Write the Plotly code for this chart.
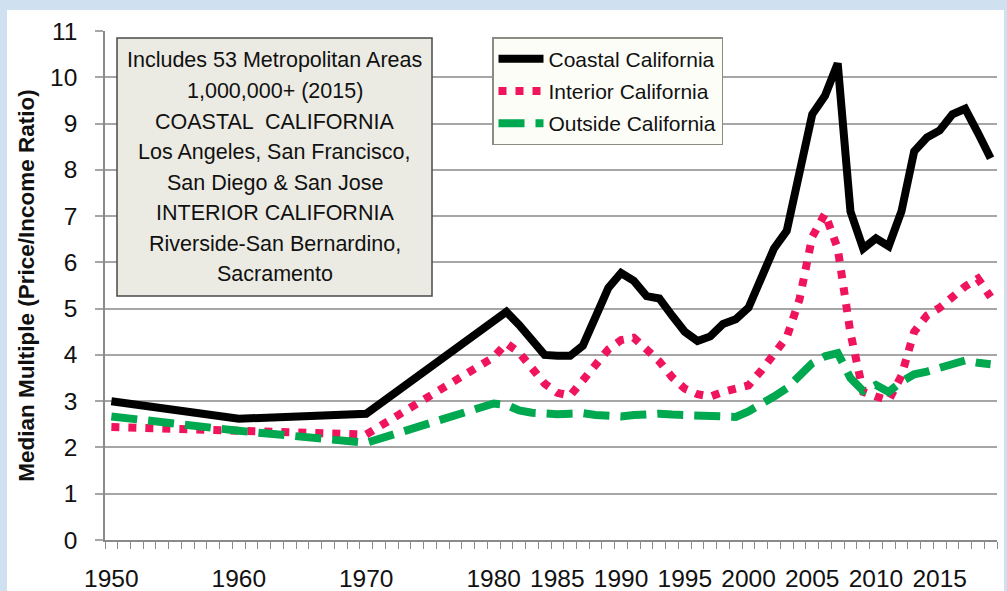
import plotly.graph_objects as go

# ---- data ----
years = [1950, 1960, 1970,
         1980, 1981, 1982, 1983, 1984, 1985, 1986, 1987, 1988, 1989,
         1990, 1991, 1992, 1993, 1994, 1995, 1996, 1997, 1998, 1999,
         2000, 2001, 2002, 2003, 2004, 2005, 2006, 2007, 2008, 2009,
         2010, 2011, 2012, 2013, 2014, 2015, 2016, 2017, 2018, 2019]

coastal = [3.00, 2.62, 2.73,
           4.72, 4.93, 4.65, 4.35, 4.00, 3.98, 3.98, 4.20, 4.85, 5.45,
           5.77, 5.60, 5.27, 5.22, 4.85, 4.50, 4.30, 4.40, 4.67, 4.77,
           5.02, 5.70, 6.30, 6.68, 7.97, 9.20, 9.60, 10.30, 7.10, 6.30,
           6.52, 6.35, 7.10, 8.40, 8.70, 8.85, 9.20, 9.32, 8.80, 8.25]

interior = [2.44, 2.35, 2.28,
            3.95, 4.25, 4.05, 3.72, 3.38, 3.18, 3.12, 3.45, 3.76, 4.12,
            4.32, 4.37, 4.12, 3.86, 3.52, 3.27, 3.15, 3.10, 3.20, 3.27,
            3.34, 3.66, 4.00, 4.38, 5.20, 6.55, 7.05, 6.30, 4.47, 3.20,
            3.10, 3.02, 3.55, 4.50, 4.85, 5.02, 5.25, 5.48, 5.65, 5.25]

outside = [2.67, 2.36, 2.10,
           2.95, 2.92, 2.80, 2.75, 2.72, 2.72, 2.73, 2.74, 2.70, 2.67,
           2.67, 2.70, 2.73, 2.73, 2.71, 2.70, 2.67, 2.65, 2.63, 2.66,
           2.78, 2.93, 3.10, 3.28, 3.58, 3.82, 3.97, 4.04, 3.50, 3.22,
           3.35, 3.20, 3.42, 3.58, 3.64, 3.72, 3.80, 3.88, 3.83, 3.80]

series_names = ["Coastal California", "Interior California", "Outside California"]

x_tick_vals = [1950, 1960, 1970, 1980, 1985, 1990, 1995, 2000, 2005, 2010, 2015]
x_tick_text = [str(v) for v in x_tick_vals]
y_tick_vals = list(range(0, 12))

note_lines = ["Includes 53 Metropolitan Areas",
              "1,000,000+ (2015)",
              "COASTAL  CALIFORNIA",
              "Los Angeles, San Francisco,",
              "San Diego &amp; San Jose",
              "INTERIOR CALIFORNIA",
              "Riverside-San Bernardino,",
              "Sacramento"]

y_title = "Median Multiple (Price/Income Ratio)"

# ---- figure ----
SANS = "Liberation Sans, Arial, sans-serif"

fig = go.Figure()
fig.add_trace(go.Scatter(x=years, y=coastal, name=series_names[0], mode="lines",
                         legendgroup="a",
                         line=dict(color="#000000", width=8)))
fig.add_trace(go.Scatter(x=years, y=interior, name=series_names[1], mode="lines",
                         legendgroup="b",
                         line=dict(color="#ef145c", width=8, dash="8px,9px")))
fig.add_trace(go.Scatter(x=years, y=outside, name=series_names[2], mode="lines",
                         legendgroup="c",
                         line=dict(color="#00a94f", width=8, dash="26px,11px")))

W, H = 1007, 591
ml, mr, mt, mb = 105, 10, 31, 51
pw, ph = W - ml - mr, H - mt - mb


def px2x(px):
    return (px - ml) / pw


def px2y(py):
    return (H - mb - py) / ph


shapes = [
    # white panel on blue frame
    dict(type="rect", xref="paper", yref="paper", layer="below",
         x0=px2x(7), x1=px2x(1004), y0=px2y(600), y1=px2y(10),
         fillcolor="white", line=dict(width=0)),
    # note box
    dict(type="rect", xref="paper", yref="paper",
         x0=px2x(117), x1=px2x(432), y0=px2y(296), y1=px2y(38),
         fillcolor="#ecebe3", line=dict(color="#4a4a4a", width=1.5)),
]

annotations = []
for i, t in enumerate(note_lines):
    annotations.append(dict(xref="paper", yref="paper", x=px2x(274.5),
                            y=px2y(60.5 + i * 30.5), text=t, showarrow=False,
                            xanchor="center", yanchor="middle",
                            font=dict(family=SANS, size=21.5, color="#111111")))

fig.update_layout(
    width=W, height=H,
    margin=dict(l=ml, r=mr, t=mt, b=mb, pad=0, autoexpand=False),
    paper_bgcolor="#cfe0f0",
    plot_bgcolor="white",
    shapes=shapes,
    annotations=annotations,
    showlegend=True,
    legend=dict(x=px2x(492), y=px2y(37), xanchor="left", yanchor="top",
                bgcolor="#fdfdf8", bordercolor="#8c8c84", borderwidth=1.5,
                font=dict(family=SANS, size=21, color="#111111"),
                itemwidth=45, tracegroupgap=2, traceorder="grouped"),
    xaxis=dict(range=[1949.5, 2019.5], tickmode="array",
               tickvals=x_tick_vals, ticktext=x_tick_text,
               ticks="", showgrid=False, zeroline=False, automargin=False,
               showline=True, linecolor="#8a8a8a", linewidth=1.5,
               ticklabelstandoff=16,
               tickfont=dict(family=SANS, size=24.5, color="#111111"),
               minor=dict(ticks="outside", tick0=1949.5, dtick=1, ticklen=7,
                          tickcolor="#8a8a8a", tickwidth=1.2, showgrid=False)),
    yaxis=dict(range=[0, 11], tickmode="array", tickvals=y_tick_vals,
               showgrid=True, gridcolor="#a6a6a6", gridwidth=1.5,
               zeroline=False, showline=True, linecolor="#8a8a8a", linewidth=1.5,
               ticks="outside", ticklen=8, tickcolor="#a6a6a6", tickwidth=1.5,
               ticklabelstandoff=13, automargin=False,
               tickfont=dict(family=SANS, size=24.5, color="#111111"),
               title=dict(text=y_title, standoff=9,
                          font=dict(family=SANS, size=22.5, color="#111111",
                                    weight="bold"))),
)

fig.write_html("out.html",
               config={"displayModeBar": False},
               post_script="document.body.style.margin='0';"
                           "document.body.style.overflow='hidden';")
